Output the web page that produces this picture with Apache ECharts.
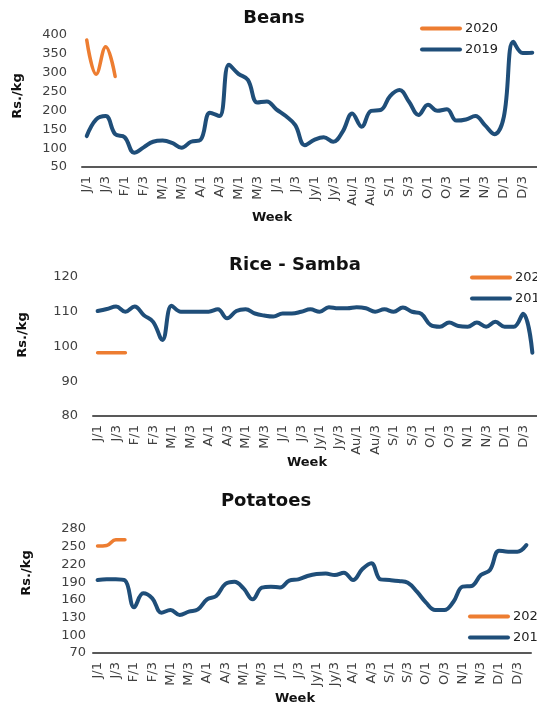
<!DOCTYPE html>
<html>
<head>
<meta charset="utf-8">
<script src="https://cdn.jsdelivr.net/npm/echarts@6/dist/echarts.min.js"></script>
<style>
  html, body { margin: 0; padding: 0; background: #fff; }
  #main { width: 537px; height: 710px; }
</style>
</head>
<body>
<div id="main"></div>
<script>
// week labels (4 weeks per month)
const weeks = ['J/1','J/2','J/3','J/4','F/1','F/2','F/3','F/4','M/1','M/2','M/3','M/4',
  'A/1','A/2','A/3','A/4','M/1','M/2','M/3','M/4','J/1','J/2','J/3','J/4',
  'Jy/1','Jy/2','Jy/3','Jy/4','Au/1','Au/2','Au/3','Au/4','S/1','S/2','S/3','S/4',
  'O/1','O/2','O/3','O/4','N/1','N/2','N/3','N/4','D/1','D/2','D/3','D/4'];
const potatoWeeks = ['J/1','J/2','J/3','J/4','F/1','F/2','F/3','F/4','M/1','M/2','M/3','M/4',
  'A/1','A/2','A/3','A/4','M/1','M/2','M/3','M/4','J/1','J/2','J/3','J/4',
  'Jy/1','Jy/2','Jy/3','Jy/4','A/1','A/2','A/3','A/4','S/1','S/2','S/3','S/4',
  'O/1','O/2','O/3','O/4','N/1','N/2','N/3','N/4','D/1','D/2','D/3','D/4'];

// Beans
const beans2019 = [132,176,185,137,129,88,102,117,120,114,101,117,122,194,185,321,297,281,221,224,
  203,185,161,108,122,129,117,144,192,157,199,201,238,254,223,188,215,199,203,173,
  176,185,161,137,183,382,352,353];
const beans2020 = [387,296,369,290];
const beansTicks = [50,100,150,200,250,300,350,400];

// Rice - Samba
const rice2019 = [110.2,110.8,111.5,110,111.5,109,107.1,101.9,111.7,110,110,110,110,110.7,108.1,110.2,
  110.7,109.5,108.9,108.6,109.5,109.5,110,110.7,110,111.3,111,111,111.3,111,110,110.7,
  110,111.2,110,109.4,106.2,105.7,106.9,105.9,105.7,106.9,105.7,107.1,105.7,105.7,109.4,98.2];
const rice2020 = [98.2,98.2,98.2,98.2];
const riceTicks = [80,90,100,110,120];

// Potatoes
const potato2019 = [193.6,194.7,195,193,147.4,171,162.6,138.3,142.8,134.4,140,144,160.9,166.5,186.8,190.8,
  179.5,160.9,180.6,182.3,181,192.5,194.7,200.4,203.8,204.5,202,206,193.6,211.7,221.9,194.7,
  193.6,191.9,189,173.8,155.2,142.8,142.8,156.9,182.3,183.5,202,210.6,243.3,241.6,241.6,252.9];
const potato2020 = [251,252,262,262];
const potatoTicks = [70,100,130,160,190,220,250,280];

const BLUE = '#1f4e79';
const ORANGE = '#ed7d31';
const FONT = 'DejaVu Sans';
const GRAY = '#404040';

const chart = echarts.init(document.getElementById('main'));

// one panel = grid + axes + two series
const panels = [
  { cats: weeks, s19: beans2019, s20: beans2020, ticks: beansTicks,
    grid: { left: 82, top: 35, width: 455, height: 132 }, labelMargin: 15 },
  { cats: weeks, s19: rice2019, s20: rice2020, ticks: riceTicks,
    grid: { left: 93, top: 277, width: 444, height: 139 }, labelMargin: 15 },
  { cats: potatoWeeks, s19: potato2019, s20: potato2020, ticks: potatoTicks,
    grid: { left: 93, top: 529, width: 438, height: 124 }, labelMargin: 7 }
];

const grid = [], xAxis = [], yAxis = [], series = [];
panels.forEach((p, i) => {
  grid.push(Object.assign({ containLabel: false }, p.grid));
  xAxis.push({
    type: 'category', gridIndex: i, data: p.cats, boundaryGap: true,
    axisLine: { lineStyle: { color: '#595959', width: 2 } },
    axisTick: { show: false },
    axisLabel: { interval: 1, rotate: 90, margin: 9, fontFamily: FONT, fontSize: 13, color: GRAY }
  });
  yAxis.push({
    type: 'value', gridIndex: i,
    min: p.ticks[0], max: p.ticks[p.ticks.length - 1],
    axisLine: { show: false }, axisTick: { show: false }, splitLine: { show: false },
    axisLabel: { customValues: p.ticks, margin: p.labelMargin, fontFamily: FONT, fontSize: 13, color: GRAY }
  });
  series.push({
    name: '2019', type: 'line', xAxisIndex: i, yAxisIndex: i, data: p.s19,
    smooth: 0.4, symbol: 'none', lineStyle: { color: BLUE, width: 4, cap: 'round' },
    itemStyle: { color: BLUE }
  });
  series.push({
    name: '2020', type: 'line', xAxisIndex: i, yAxisIndex: i, data: p.s20,
    smooth: 0.4, symbol: 'none', lineStyle: { color: ORANGE, width: 3.5, cap: 'round' },
    itemStyle: { color: ORANGE }
  });
});

// legend: plain line icon, no marker
const legendBase = {
  orient: 'vertical', data: ['2020', '2019'],
  itemWidth: 38, itemHeight: 14, itemGap: 8, selectedMode: false,
  itemStyle: { opacity: 0 },
  lineStyle: { width: 4, cap: 'round', opacity: 1 },
  textStyle: { fontFamily: FONT, fontSize: 13, color: '#222' }
};
const legend = [
  Object.assign({}, legendBase, { left: 415, top: 17 }),
  Object.assign({}, legendBase, { left: 465, top: 266 }),
  Object.assign({}, legendBase, { left: 463, top: 605 })
];

function txt(text, x, y, size, bold, rot) {
  return {
    type: 'text', x: x, y: y, rotation: rot || 0,
    style: { text: text, fill: '#111', align: 'center', verticalAlign: 'middle',
      font: (bold ? 'bold ' : '') + size + 'px "' + FONT + '"' }
  };
}

const graphic = [
  txt('Beans', 274, 18, 18, true),
  txt('Rice - Samba', 295, 265, 18, true),
  txt('Potatoes', 266, 501, 18, true),
  txt('Rs./kg', 18, 96, 13, true, Math.PI / 2),
  txt('Rs./kg', 23, 335, 13, true, Math.PI / 2),
  txt('Rs./kg', 27, 573, 13, true, Math.PI / 2),
  txt('Week', 272, 218, 13, true),
  txt('Week', 307, 463, 13, true),
  txt('Week', 295, 699, 13, true)
];

chart.setOption({
  animation: false,
  backgroundColor: '#fff',
  grid, xAxis, yAxis, series, legend, graphic
});
</script>
</body>
</html>
